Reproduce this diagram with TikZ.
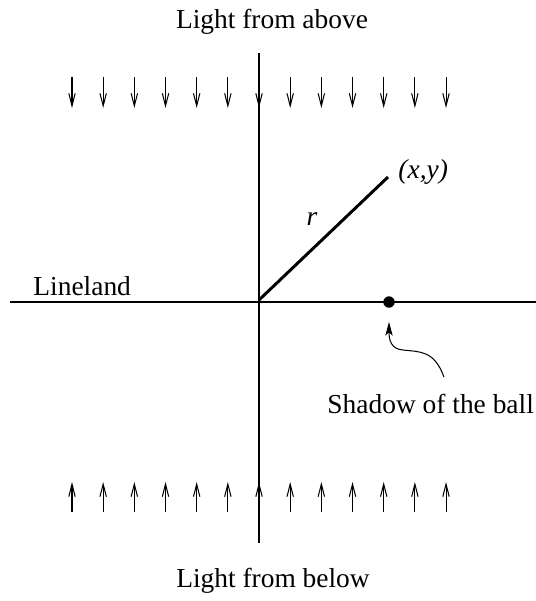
\documentclass[tikz,border=0pt]{standalone}
\usepackage{fontspec}
\setmainfont{Liberation Serif}
\usetikzlibrary{arrows.meta}
\definecolor{ink}{HTML}{000000}
\tikzset{
  axis/.style={draw=ink, line width=0.5pt},
  ray/.style={draw=ink, line width=0.45pt, -{Straight Barb[length=5.5pt, width=2.8pt]}},
  rad/.style={draw=ink, line width=1.3pt},
  ball/.style={circle, fill=ink, minimum size=5pt, inner sep=0pt},
  pointer/.style={draw=ink, line width=0.45pt, -{Stealth[length=6pt, width=3.2pt, inset=1.4pt]}},
  lbl/.style={font=\fontsize{12pt}{14pt}\selectfont, text=ink, inner sep=0pt},
}

\begin{document}
\begin{tikzpicture}[x=0.4375pt, y=-0.4375pt]
  \useasboundingbox (0,0) rectangle (536,601);
  % axes
  \coordinate (west) at (10,302);
  \coordinate (east) at (536,302);
  \coordinate (top) at (259,53);
  \coordinate (bottom) at (259,543);
  \draw[axis] (west) -- (east);
  \draw[axis] (top) -- (bottom);

  % light rays
  \foreach \i in {0,...,12} {
    \coordinate (up\i) at ({72+\i*31.17}, 77);
    \coordinate (dn\i) at ({72+\i*31.17}, 108);
    \coordinate (lo\i) at ({72+\i*31.17}, 512);
    \coordinate (hi\i) at ({72+\i*31.17}, 482);
    \draw[ray] (up\i) -- (dn\i);
    \draw[ray] (lo\i) -- (hi\i);
  }

  % the ball and its shadow
  \coordinate (origin) at (259,300);
  \coordinate (point) at (388,177);
  \draw[rad] (origin) -- (point);
  \node[ball] (shadow) at (389,302) {};
  \coordinate (tail) at (444,377);
  \draw[pointer, shorten >=6pt] (tail) .. controls (434,350) and (420,352) .. (403,350)
    .. controls (391,349) and (389,340) .. (shadow.south);

  % labels
  \node[lbl, anchor=base] (above) at (272,28) {Light from above};
  \node[lbl, anchor=base] (below) at (273,587) {Light from below};
  \node[lbl, anchor=base west] (line) at (33,295) {Lineland};
  \node[lbl, anchor=base west] (xy) at (398,178) {\itshape (x,y)};
  \node[lbl, anchor=base] (r) at (312,225) {\itshape r};
  \node[lbl, anchor=base west] (shadowtxt) at (327,413) {Shadow of the ball};
\end{tikzpicture}
\end{document}
